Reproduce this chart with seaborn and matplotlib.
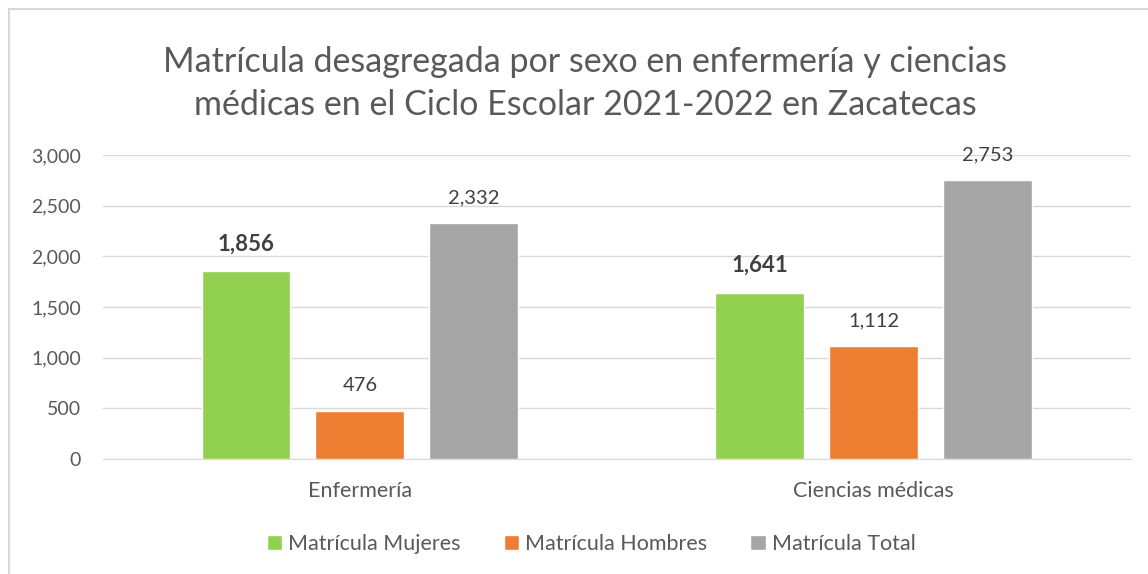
import pandas as pd
import seaborn as sns
import matplotlib.pyplot as plt
from matplotlib.patches import Rectangle
from matplotlib.ticker import FuncFormatter

categorias = ['Enfermería', 'Ciencias médicas']
series = ['Matrícula Mujeres', 'Matrícula Hombres', 'Matrícula Total']
mujeres = [1856, 1641]
hombres = [476, 1112]
total = [2332, 2753]
colores = ['#92D050', '#ED7D31', '#A5A5A5']

data = pd.DataFrame({
    'Categoria': categorias * 3,
    'Serie': [series[0]] * 2 + [series[1]] * 2 + [series[2]] * 2,
    'Valor': mujeres + hombres + total,
})

sns.set_style('white')
plt.rcParams['font.family'] = ['Lato', 'DejaVu Sans']
texto = '#595959'

fig = plt.figure(figsize=(11.48, 5.74), dpi=100)
ax = fig.add_axes([0.0897, 0.2003, 0.8953, 0.5297])

sns.barplot(data=data, x='Categoria', y='Valor', hue='Serie',
            palette=colores, width=0.665, gap=0.22, saturation=1,
            ax=ax, legend=True)

ax.set_ylim(0, 3000)
ax.set_xlim(-0.5, 1.5)
ax.set_yticks(range(0, 3001, 500))
ax.yaxis.set_major_formatter(FuncFormatter(lambda v, p: f'{int(v):,}'))
ax.grid(axis='y', color='#D9D9D9', linewidth=1)
ax.set_axisbelow(True)
for s in ['top', 'right', 'left']:
    ax.spines[s].set_visible(False)
ax.spines['bottom'].set_color('#D9D9D9')
ax.tick_params(axis='y', length=0, labelsize=14, colors=texto, pad=16)
ax.tick_params(axis='x', length=0, labelsize=15.5, colors=texto, pad=16)
ax.set_xlabel('')
ax.set_ylabel('')

for i, cont in enumerate(ax.containers):
    ax.bar_label(cont, labels=[f'{int(v):,}' for v in cont.datavalues],
                 padding=12, fontsize=16 if i == 0 else 14.5,
                 fontweight='bold' if i == 0 else 'normal',
                 color='#404040')

fig.suptitle('Matrícula desagregada por sexo en enfermería y ciencias\n'
             'médicas en el Ciclo Escolar 2021-2022 en Zacatecas',
             x=0.51, y=0.92, fontsize=24.5, color=texto, linespacing=1.42)

leg = ax.legend(loc='center', bbox_to_anchor=(0.475, -0.28), ncol=3,
                frameon=False, fontsize=15.5, handlelength=0.7,
                handleheight=0.7, handletextpad=0.3, columnspacing=2.0)
for t in leg.get_texts():
    t.set_color(texto)

fig.patches.append(Rectangle((9 / 1148, -0.1), 1.2, 1.1 - 9 / 574,
                             transform=fig.transFigure, fill=False,
                             edgecolor='#D9D9D9', linewidth=1.5))

plt.savefig('out.png', dpi=100)
